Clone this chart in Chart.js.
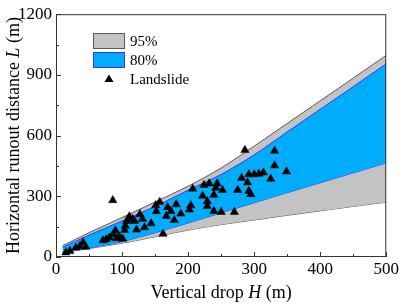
<!DOCTYPE html>
<html>
<head>
<meta charset="utf-8">
<script src="https://cdn.jsdelivr.net/npm/chart.js@4.4.0/dist/chart.umd.min.js"></script>
<style>
  html, body { margin: 0; padding: 0; background: #fff; }
  #wrap { width: 401px; height: 307px; }
</style>
</head>
<body>
<div id="wrap"><canvas id="chart"></canvas></div>
<script>
// prediction bands
const dropH   = [10, 50, 100, 150, 200, 250, 300, 350, 400, 450, 500];
const upper95 = [56, 120, 195, 272, 350, 440, 548, 660, 772, 884, 997];
const upper80 = [48, 108, 178, 250, 330, 408, 505, 618, 730, 842, 955];
const lower80 = [25, 45, 76, 120, 168, 218, 268, 318, 367, 416, 465];
const lower95 = [21, 42, 68, 100, 133, 160, 183, 206, 228, 250, 271];

// landslides: vertical drop H and runout L
const slideH = [15, 21, 30, 36, 41, 45, 71, 76, 81, 86, 86, 90, 92, 96, 101, 104, 105, 107, 111, 116,
  119, 122, 127, 131, 134, 144, 151, 152, 157, 162, 167, 169, 174, 179, 182, 189, 202, 204, 207, 222,
  224, 232, 239, 242, 244, 252, 229, 229, 239, 250, 270, 275, 281, 286, 292, 300, 307, 314, 290, 292,
  295, 331, 331, 349, 325];
const slideL = [22, 29, 46, 53, 72, 50, 82, 87, 96, 280, 111, 130, 92, 101, 90, 133, 154, 178, 200, 187,
  178, 135, 211, 188, 146, 166, 255, 226, 272, 114, 202, 246, 226, 182, 260, 214, 234, 255, 337, 302,
  355, 363, 307, 342, 363, 331, 275, 251, 227, 222, 222, 331, 390, 528, 408, 408, 411, 417, 368, 326,
  310, 525, 452, 422, 386];

const xTicks = [0, 100, 200, 300, 400, 500];
const yTicks = [0, 300, 600, 900, 1200];
const xMinor = [50, 150, 250, 350, 450];
const yMinor = [150, 450, 750, 1050];

const GRAY = '#c3c3c3', GRAY_LINE = '#5a5a5a';
const BLUE = '#00adfc', BLUE_LINE = '#2a3cff';
const SERIF = '"Liberation Serif", "Times New Roman", serif';

const xy = (xs, ys) => xs.map((v, i) => ({ x: v, y: ys[i] }));

function drawMixed(ctx, parts, cx, cy) {
  let total = 0;
  parts.forEach(p => { ctx.font = p[1]; total += ctx.measureText(p[0]).width; });
  let x = cx - total / 2;
  ctx.textAlign = 'left';
  ctx.textBaseline = 'middle';
  parts.forEach(p => { ctx.font = p[1]; ctx.fillText(p[0], x, cy); x += ctx.measureText(p[0]).width; });
}

const extras = {
  id: 'extras',
  afterDraw(chart) {
    const { ctx, chartArea: a, scales: { x, y } } = chart;
    ctx.save();
    ctx.strokeStyle = '#333';
    ctx.lineWidth = 1;
    ctx.strokeRect(a.left + 0.5, a.top + 0.5, a.right - a.left - 1, a.bottom - a.top - 1);

    // inward ticks
    ctx.beginPath();
    xTicks.forEach(v => { const p = Math.round(x.getPixelForValue(v)) + 0.5; ctx.moveTo(p, a.bottom); ctx.lineTo(p, a.bottom - 5); });
    xMinor.forEach(v => { const p = Math.round(x.getPixelForValue(v)) + 0.5; ctx.moveTo(p, a.bottom); ctx.lineTo(p, a.bottom - 3); });
    yTicks.forEach(v => { const p = Math.round(y.getPixelForValue(v)) + 0.5; ctx.moveTo(a.left, p); ctx.lineTo(a.left + 5, p); });
    yMinor.forEach(v => { const p = Math.round(y.getPixelForValue(v)) + 0.5; ctx.moveTo(a.left, p); ctx.lineTo(a.left + 3, p); });
    ctx.stroke();

    // axis titles
    ctx.fillStyle = '#000';
    const f = '18px ' + SERIF, fi = 'italic 18px ' + SERIF;
    drawMixed(ctx, [['Vertical drop ', f], ['H', fi], [' (m)', f]], (a.left + a.right) / 2, 293);
    ctx.save();
    ctx.translate(14, (a.top + a.bottom) / 2);
    ctx.rotate(-Math.PI / 2);
    drawMixed(ctx, [['Horizontal runout distance ', f], ['L', fi], [' (m)', f]], 0, 0);
    ctx.restore();

    // legend
    ctx.lineWidth = 1;
    ctx.fillStyle = GRAY; ctx.strokeStyle = GRAY_LINE;
    ctx.fillRect(93, 33, 32, 16); ctx.strokeRect(93.5, 33.5, 31, 15);
    ctx.fillStyle = BLUE; ctx.strokeStyle = BLUE_LINE;
    ctx.fillRect(93, 52, 32, 16); ctx.strokeRect(93.5, 52.5, 31, 15);
    ctx.fillStyle = '#000';
    ctx.beginPath();
    ctx.moveTo(109, 74.5); ctx.lineTo(113.5, 82); ctx.lineTo(104.5, 82); ctx.closePath();
    ctx.fill();
    ctx.font = '15px ' + SERIF;
    ctx.textAlign = 'left'; ctx.textBaseline = 'middle';
    ctx.fillText('95%', 130, 42);
    ctx.fillText('80%', 130, 61);
    ctx.fillText('Landslide', 130, 80);
    ctx.restore();
  }
};

const band = (data, fill, color, line) => ({
  data: xy(dropH, data), borderColor: line, borderWidth: 1, backgroundColor: color,
  fill: fill, pointRadius: 0, tension: 0.3
});

new Chart(document.getElementById('chart'), {
  type: 'line',
  data: {
    datasets: [
      {
        label: 'Landslide', data: xy(slideH, slideL), showLine: false,
        pointStyle: 'triangle', pointRadius: 4.8, backgroundColor: '#000', borderColor: '#000', borderWidth: 0.5
      },
      band(upper80, '+1', BLUE, BLUE_LINE),
      band(lower80, false, BLUE, BLUE_LINE),
      band(upper95, '+1', GRAY, GRAY_LINE),
      band(lower95, false, GRAY, GRAY_LINE)
    ]
  },
  options: {
    responsive: true,
    maintainAspectRatio: false,
    animation: false,
    layout: { padding: { left: 0, top: 8, right: 14, bottom: 0 } },
    plugins: { legend: { display: false }, tooltip: { enabled: false } },
    scales: {
      x: {
        type: 'linear', min: 0, max: 500,
        afterBuildTicks: s => { s.ticks = xTicks.map(v => ({ value: v })); },
        afterFit: s => { s.height = 50; },
        grid: { display: false, drawTicks: false },
        border: { display: false },
        ticks: { color: '#000', padding: 2, font: { family: SERIF, size: 17 }, callback: v => String(v) }
      },
      y: {
        type: 'linear', min: 0, max: 1200,
        afterBuildTicks: s => { s.ticks = yTicks.map(v => ({ value: v })); },
        afterFit: s => { s.width = 56; },
        grid: { display: false, drawTicks: false },
        border: { display: false },
        ticks: { color: '#000', padding: 4, font: { family: SERIF, size: 17 }, callback: v => String(v) }
      }
    }
  },
  plugins: [extras]
});
</script>
</body>
</html>
